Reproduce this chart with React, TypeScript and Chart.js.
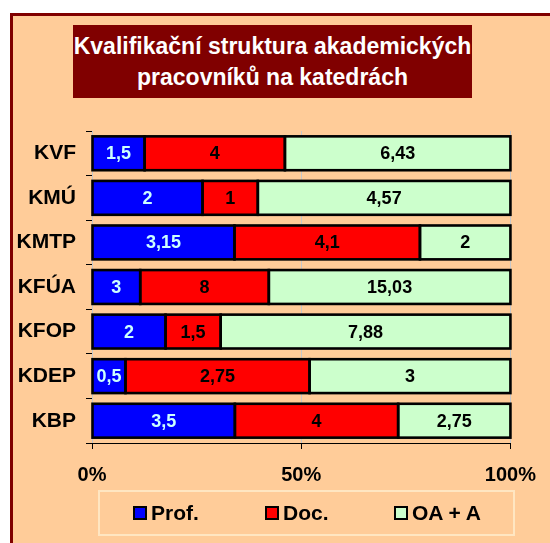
import React, { useEffect, useRef } from "react";
import { Chart, registerables } from "chart.js";

Chart.register(...registerables);

const categories = ["KVF", "KMÚ", "KMTP", "KFÚA", "KFOP", "KDEP", "KBP"];
const profValues = [1.5, 2, 3.15, 3, 2, 0.5, 3.5];
const docValues = [4, 1, 4.1, 8, 1.5, 2.75, 4];
const oaValues = [6.43, 4.57, 2, 15.03, 7.88, 3, 2.75];
const seriesNames = ["Prof.", "Doc.", "OA + A"];
const seriesColors = ["#0000FF", "#FF0000", "#CCFFCC"];
const labelColors = ["#CCFFFF", "#000000", "#000000"];
const xTicks = [0, 50, 100];
const titleLines = ["Kvalifikační struktura akademických", "pracovníků na katedrách"];

const FONT = "Arial, 'Liberation Sans', sans-serif";

const rawSeries = [profValues, docValues, oaValues];
const totals = categories.map((_, i) => profValues[i] + docValues[i] + oaValues[i]);

const labelPlugin = {
  id: "barLabels",
  afterDatasetsDraw(chart: any) {
    const ctx = chart.ctx;
    ctx.save();
    // outlines centred on the bar edges (shared between adjacent segments)
    ctx.strokeStyle = "#000";
    ctx.lineWidth = 2.6;
    chart.data.datasets.forEach((_: any, di: number) => {
      const meta = chart.getDatasetMeta(di);
      meta.data.forEach((el: any) => {
        const { x, y, base, height } = el.getProps(["x", "y", "base", "height"], true);
        ctx.strokeRect(base, y - height / 2, x - base, height);
      });
    });
    ctx.font = `bold 18px ${FONT}`;
    ctx.textAlign = "center";
    ctx.textBaseline = "middle";
    chart.data.datasets.forEach((ds: any, di: number) => {
      const meta = chart.getDatasetMeta(di);
      meta.data.forEach((el: any, i: number) => {
        const p = el.getCenterPoint();
        const v = ds.raw[i];
        ctx.fillStyle = labelColors[di];
        ctx.fillText(String(v).replace(".", ","), p.x, p.y + 1);
      });
    });
    ctx.restore();
  },
};

export default function App() {
  const ref = useRef<HTMLCanvasElement>(null);
  useEffect(() => {
    const chart = new Chart(ref.current!, {
      type: "bar",
      data: {
        labels: categories,
        datasets: rawSeries.map((vals, si) => ({
          label: seriesNames[si],
          data: vals.map((v, i) => (v / totals[i]) * 100),
          raw: vals,
          backgroundColor: seriesColors[si],
          borderWidth: 0,
          categoryPercentage: 1,
          barPercentage: 0.76,
        })) as any,
      },
      options: {
        indexAxis: "y",
        animation: false,
        responsive: false,
        devicePixelRatio: 1,
        layout: { padding: { left: 0, right: 38, top: 131, bottom: 0 } },
        plugins: {
          legend: { display: false },
          title: { display: false },
          tooltip: { enabled: false },
        },
        scales: {
          x: {
            stacked: true,
            min: 0,
            max: 100,
            afterBuildTicks(scale: any) {
              scale.ticks = xTicks.map((v) => ({ value: v }));
            },
            afterFit(scale: any) {
              scale.height = 100;
            },
            ticks: {
              callback: (v: any) => v + "%",
              color: "#000",
              font: { family: FONT, size: 20, weight: "bold" },
              padding: 14,
              maxRotation: 0,
            },
            grid: {
              color: "#C8C8C8",
              tickColor: "#000",
              tickLength: 6,
              lineWidth: 1,
            },
            border: { display: true, color: "#000", width: 1 },
          },
          y: {
            stacked: true,
            afterFit(scale: any) {
              scale.width = 92;
            },
            ticks: {
              color: "#000",
              font: { family: FONT, size: 21, weight: "bold" },
              padding: 10,
            },
            grid: {
              drawOnChartArea: false,
              tickColor: "#000",
              tickLength: 6,
              offset: true,
            },
            border: { display: false },
          },
        },
      },
      plugins: [labelPlugin],
    } as any);
    return () => chart.destroy();
  }, []);

  return (
    <div
      style={{
        position: "fixed",
        left: 0,
        top: 0,
        width: 550,
        height: 543,
        background: "#FFFFFF",
        overflow: "hidden",
        fontFamily: FONT,
      }}
    >
      <div
        style={{
          position: "absolute",
          left: 10,
          top: 13,
          width: 700,
          height: 700,
          background: "#FFCC99",
          borderLeft: "3px solid #800000",
          borderTop: "3px solid #800000",
        }}
      />
      <div
        style={{
          position: "absolute",
          left: 73,
          top: 25,
          width: 399,
          height: 73,
          background: "#800000",
          color: "#FFFFFF",
          fontWeight: "bold",
          fontSize: 23,
          lineHeight: "31px",
          textAlign: "center",
          boxSizing: "border-box",
          paddingTop: 6,
          whiteSpace: "nowrap",
        }}
      >
        {titleLines.map((t) => (
          <div key={t}>{t}</div>
        ))}
      </div>
      <canvas
        ref={ref}
        width={550}
        height={543}
        style={{ position: "absolute", left: 0, top: 0, width: 550, height: 543 }}
      />
      <div
        style={{
          position: "absolute",
          left: 98,
          top: 490,
          width: 417,
          height: 46,
          border: "2px solid #FFE6C2",
          boxSizing: "border-box",
        }}
      >
        {seriesNames.map((n, i) => (
          <div
            key={n}
            style={{
              position: "absolute",
              left: [33, 165, 294][i],
              top: 0,
              height: 42,
              display: "flex",
              alignItems: "center",
              fontWeight: "bold",
              fontSize: 21,
              color: "#000",
              whiteSpace: "nowrap",
            }}
          >
            <span
              style={{
                display: "inline-block",
                width: 10,
                height: 10,
                border: "2px solid #000",
                background: seriesColors[i],
                marginRight: 4,
              }}
            />
            {n}
          </div>
        ))}
      </div>
    </div>
  );
}
